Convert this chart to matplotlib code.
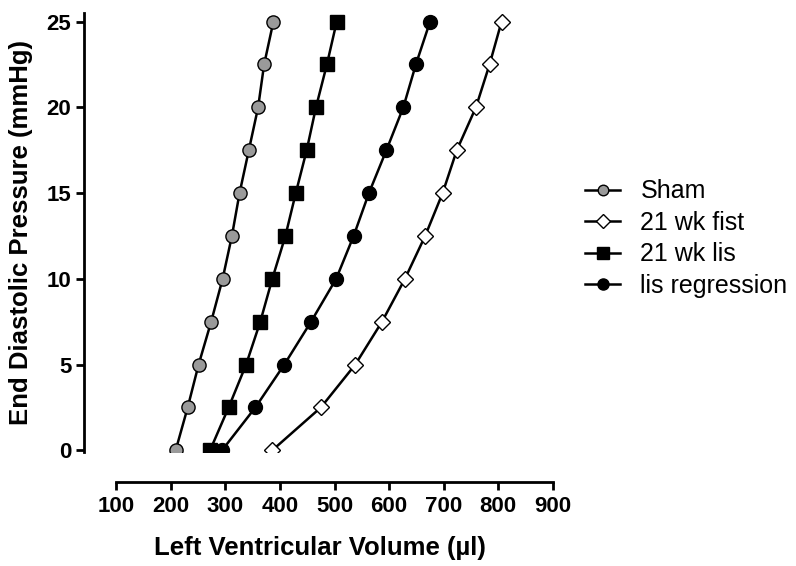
import matplotlib
matplotlib.use("Agg")
import matplotlib.pyplot as plt

pressure = [0, 2.5, 5, 7.5, 10, 12.5, 15, 17.5, 20, 22.5, 25]
sham = [209, 231, 251, 274, 295, 312, 326, 343, 360, 371, 388]
fist21 = [386, 475, 538, 587, 629, 666, 698, 724, 759, 784, 806]
lis21 = [272, 306, 338, 364, 386, 410, 429, 449, 466, 486, 504]
lis_reg = [294, 355, 408, 457, 503, 535, 563, 595, 626, 649, 675]

labels = ["Sham", "21 wk fist", "21 wk lis", "lis regression"]
xticks = [100, 200, 300, 400, 500, 600, 700, 800, 900]
yticks = [0, 5, 10, 15, 20, 25]

plt.rcParams['font.family'] = ['Liberation Sans', 'DejaVu Sans']

fig = plt.figure(figsize=(7.96, 5.66), dpi=100)
ax = fig.add_axes([0.1055, 0.2014, 0.698 - 0.1055, 0.977 - 0.2014])

lw = 1.8
ax.plot(sham, pressure, color='black', lw=lw, marker='o', ms=9.5,
        mfc='#9a9a9a', mec='black', mew=1.0, label=labels[0], zorder=3)
ax.plot(fist21, pressure, color='black', lw=lw, marker='D', ms=8.5,
        mfc='white', mec='black', mew=1.0, label=labels[1], zorder=3)
ax.plot(lis21, pressure, color='black', lw=lw, marker='s', ms=10.5,
        mfc='black', mec='black', mew=1.0, label=labels[2], zorder=3)
ax.plot(lis_reg, pressure, color='black', lw=lw, marker='o', ms=10,
        mfc='black', mec='black', mew=1.0, label=labels[3], zorder=3)

ax.set_xlim(41, 905)
ax.set_ylim(-0.1, 25.5)
ax.set_xticks(xticks)
ax.set_yticks(yticks)

for s in ['top', 'right']:
    ax.spines[s].set_visible(False)
ax.spines['left'].set_linewidth(2)
ax.spines['bottom'].set_linewidth(2)
ax.spines['bottom'].set_position(('outward', 21.6))
ax.spines['bottom'].set_bounds(100, 900)

ax.tick_params(axis='both', direction='out', length=6, width=2,
               labelsize=16)
ax.tick_params(axis='x', pad=4)
ax.tick_params(axis='y', pad=3)
for t in ax.get_xticklabels() + ax.get_yticklabels():
    t.set_fontweight('bold')

ax.set_xlabel("Left Ventricular Volume (µl)", fontsize=18.5, fontweight='bold',
              labelpad=14)
ax.set_ylabel("End Diastolic Pressure (mmHg)", fontsize=18.5, fontweight='bold',
              labelpad=10)

leg = ax.legend(loc='center left', bbox_to_anchor=(1.063, 0.486), frameon=False,
                fontsize=18, handlelength=1.4, handletextpad=0.8,
                labelspacing=0.3, borderaxespad=0, borderpad=0,
                markerscale=0.8)

fig.savefig("out.png", dpi=100)
